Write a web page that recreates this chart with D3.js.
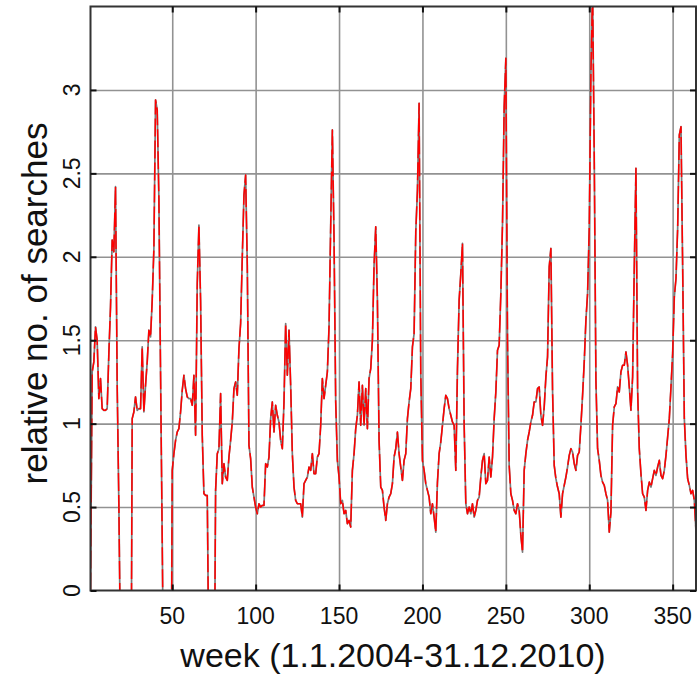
<!DOCTYPE html>
<html>
<head>
<meta charset="utf-8">
<script src="https://cdn.jsdelivr.net/npm/d3@7/dist/d3.min.js"></script>
<style>
  body { margin: 0; background: #fff; }
  svg { display: block; font-family: "Liberation Sans", Arial, Helvetica, sans-serif; }
</style>
</head>
<body>
<svg id="chart" width="697" height="681"></svg>
<script>
// relative no. of searches, one value per week, grouped by year
// (values below 0 run off the bottom of the plot in the original)
const weeks2004 = [
  0, 1.31, 1.37, 1.58, 1.50, 1.15, 1.27, 1.09, 1.08, 1.08,
  1.09, 1.42, 1.70, 2.10, 2.03, 2.42, 1.23, 0.52, -0.4, -1.5,
  -1.5, -1.5, -1.5, -1.5, -1.5, 1.03, 1.07, 1.16, 1.08, 1.09,
  1.09, 1.46, 1.07, 1.23, 1.37, 1.56, 1.52, 1.74, 2.05, 2.94,
  2.88, 2.35, 1.30, 0.30, -0.8, -1.5, -1.5, -1.5, -1.5, 0.72,
  0.82, 0.90
];
const weeks2005 = [
  0.95, 0.97, 1.07, 1.20, 1.29, 1.21, 1.16, 1.15, 1.15, 1.11,
  1.29, 0.93, 1.84, 2.19, 1.74, 0.93, 0.58, 0.57, 0.57, -0.5,
  -1.5, -1.5, -1.0, 0.60, 0.82, 0.85, 1.18, 0.64, 0.76, 0.68,
  0.66, 0.80, 0.90, 1.01, 1.21, 1.25, 1.17, 1.45, 1.60, 2.00,
  2.37, 2.49, 1.95, 0.87, 0.79, 0.62, 0.56, 0.50, 0.46, 0.52,
  0.50, 0.51
];
const weeks2006 = [
  0.51, 0.76, 0.74, 0.80, 1.03, 1.13, 0.95, 1.11, 1.05, 1.01,
  0.90, 0.85, 1.13, 1.60, 1.29, 1.56, 1.23, 0.82, 0.62, 0.54,
  0.52, 0.52, 0.52, 0.44, 0.64, 0.66, 0.68, 0.74, 0.72, 0.82,
  0.70, 0.70, 0.80, 0.82, 0.99, 1.27, 1.15, 1.23, 1.31, 1.58,
  2.19, 2.76, 2.11, 1.13, 0.78, 0.68, 0.52, 0.54, 0.46, 0.48,
  0.40, 0.42
];
const weeks2007 = [
  0.38, 0.72, 0.82, 0.97, 1.05, 1.25, 0.99, 1.23, 0.99, 1.21,
  0.97, 1.27, 1.33, 1.50, 1.95, 2.18, 1.74, 0.90, 0.62, 0.60,
  0.50, 0.42, 0.52, 0.56, 0.58, 0.64, 0.80, 0.85, 0.95, 0.82,
  0.74, 0.66, 0.78, 0.82, 1.03, 1.13, 1.21, 1.46, 1.54, 2.15,
  2.40, 2.92, 1.30, 0.78, 0.72, 0.64, 0.60, 0.56, 0.46, 0.52,
  0.44, 0.35
];
const weeks2008 = [
  0.65, 0.82, 0.89, 0.99, 1.09, 1.17, 1.15, 1.09, 1.05, 1.01,
  0.99, 0.72, 1.33, 1.74, 1.90, 2.08, 1.00, 0.52, 0.46, 0.50,
  0.46, 0.52, 0.44, 0.48, 0.54, 0.56, 0.68, 0.78, 0.82, 0.64,
  0.66, 0.80, 0.68, 0.80, 1.03, 1.19, 1.44, 1.47, 1.78, 2.20,
  2.90, 3.19, 1.50, 0.75, 0.58, 0.54, 0.48, 0.46, 0.52, 0.48,
  0.33, 0.23
];
const weeks2009 = [
  0.72, 0.82, 0.90, 0.95, 1.01, 1.05, 1.13, 1.13, 1.21, 1.22,
  1.05, 0.99, 1.10, 1.28, 1.40, 1.94, 2.05, 1.20, 0.75, 0.67,
  0.62, 0.58, 0.44, 0.58, 0.63, 0.68, 0.74, 0.81, 0.85, 0.83,
  0.76, 0.72, 0.81, 0.83, 0.99, 1.17, 1.37, 1.62, 1.78, 2.17,
  3.10, 3.60, 2.60, 1.26, 0.85, 0.78, 0.69, 0.65, 0.63, 0.58,
  0.54, 0.35
];
const weeks2010 = [
  0.47, 0.99, 1.10, 1.12, 1.22, 1.19, 1.31, 1.35, 1.35, 1.43,
  1.35, 1.22, 1.08, 1.28, 1.94, 2.53, 1.20, 0.85, 0.70, 0.58,
  0.56, 0.48, 0.60, 0.65, 0.62, 0.67, 0.72, 0.69, 0.74, 0.78,
  0.69, 0.67, 0.72, 0.81, 0.92, 1.03, 1.22, 1.42, 1.76, 1.87,
  2.17, 2.73, 2.78, 1.94, 1.03, 0.81, 0.67, 0.63, 0.58, 0.60,
  0.54, 0.35
];
const searches = [].concat(weeks2004, weeks2005, weeks2006, weeks2007, weeks2008, weeks2009, weeks2010);

const xTicks = [50, 100, 150, 200, 250, 300, 350];
const yTicks = [0, 0.5, 1, 1.5, 2, 2.5, 3];
const yTickLabels = ["0", "0.5", "1", "1.5", "2", "2.5", "3"];

const width = 697;
const height = 681;
const plot = { left: 90.5, right: 696, top: 6.5, bottom: 590.5 };

const svg = d3.select("#chart");

const x = d3.scaleLinear()
  .domain([1, searches.length])
  .range([plot.left, plot.right]);

const y = d3.scaleLinear()
  .domain([0, 3.5])
  .range([plot.bottom, plot.top]);

svg.append("defs").append("clipPath")
  .attr("id", "plot-clip")
  .append("rect")
  .attr("x", plot.left)
  .attr("y", plot.top)
  .attr("width", plot.right - plot.left)
  .attr("height", plot.bottom - plot.top);

// grid
svg.append("g")
  .attr("transform", `translate(0,${plot.bottom})`)
  .call(d3.axisBottom(x).tickValues(xTicks).tickSize(-(plot.bottom - plot.top)).tickFormat(""))
  .call((g) => g.select(".domain").remove())
  .call((g) => g.selectAll("line").attr("stroke", "#929292").attr("stroke-width", 1.6));

svg.append("g")
  .attr("transform", `translate(${plot.left},0)`)
  .call(d3.axisLeft(y).tickValues(yTicks.slice(1)).tickSize(-(plot.right - plot.left)).tickFormat(""))
  .call((g) => g.select(".domain").remove())
  .call((g) => g.selectAll("line").attr("stroke", "#929292").attr("stroke-width", 1.6));

// series: gray underneath, red on top
const line = d3.line()
  .x((d, i) => x(i + 1))
  .y((d) => y(d));

const lines = svg.append("g").attr("clip-path", "url(#plot-clip)");

lines.append("path")
  .datum(searches)
  .attr("fill", "none")
  .attr("stroke", "#7a7a7a")
  .attr("stroke-width", 1.7)
  .attr("stroke-linejoin", "round")
  .attr("d", line);

lines.append("path")
  .datum(searches)
  .attr("fill", "none")
  .attr("stroke", "#ff0000")
  .attr("stroke-width", 1.5)
  .attr("stroke-dasharray", "18,4")
  .attr("stroke-linejoin", "round")
  .attr("d", line);

// frame
svg.append("rect")
  .attr("x", plot.left)
  .attr("y", plot.top)
  .attr("width", plot.right - plot.left)
  .attr("height", plot.bottom - plot.top)
  .attr("fill", "none")
  .attr("stroke", "#333")
  .attr("stroke-width", 2);

// inward ticks on all four sides
const tickLen = 6;
const styleTicks = (g) => {
  g.select(".domain").remove();
  g.selectAll("line").attr("stroke", "#111").attr("stroke-width", 2);
};

svg.append("g")
  .attr("transform", `translate(0,${plot.bottom})`)
  .call(d3.axisBottom(x).tickValues(xTicks).tickSize(-tickLen).tickFormat(""))
  .call(styleTicks);
svg.append("g")
  .attr("transform", `translate(0,${plot.top})`)
  .call(d3.axisTop(x).tickValues(xTicks).tickSize(-tickLen).tickFormat(""))
  .call(styleTicks);
svg.append("g")
  .attr("transform", `translate(${plot.left},0)`)
  .call(d3.axisLeft(y).tickValues(yTicks).tickSize(-tickLen).tickFormat(""))
  .call(styleTicks);
svg.append("g")
  .attr("transform", `translate(${plot.right},0)`)
  .call(d3.axisRight(y).tickValues(yTicks).tickSize(-tickLen).tickFormat(""))
  .call(styleTicks);

// tick labels
svg.append("g")
  .selectAll("text")
  .data(xTicks)
  .join("text")
  .attr("x", (d) => x(d))
  .attr("y", 624)
  .attr("text-anchor", "middle")
  .attr("font-size", 23)
  .attr("fill", "#111")
  .text((d) => d);

svg.append("g")
  .selectAll("text")
  .data(yTicks)
  .join("text")
  .attr("transform", (d) => `translate(80,${y(d)}) rotate(-90)`)
  .attr("text-anchor", "middle")
  .attr("font-size", 23)
  .attr("fill", "#111")
  .text((d, i) => yTickLabels[i]);

// axis titles
svg.append("text")
  .attr("x", 393)
  .attr("y", 667)
  .attr("text-anchor", "middle")
  .attr("font-size", 34)
  .attr("fill", "#111")
  .text("week (1.1.2004-31.12.2010)");

svg.append("text")
  .attr("transform", `translate(47,${(plot.top + plot.bottom) / 2 + 5}) rotate(-90)`)
  .attr("text-anchor", "middle")
  .attr("font-size", 35)
  .attr("fill", "#111")
  .text("relative no. of searches");
</script>
</body>
</html>
